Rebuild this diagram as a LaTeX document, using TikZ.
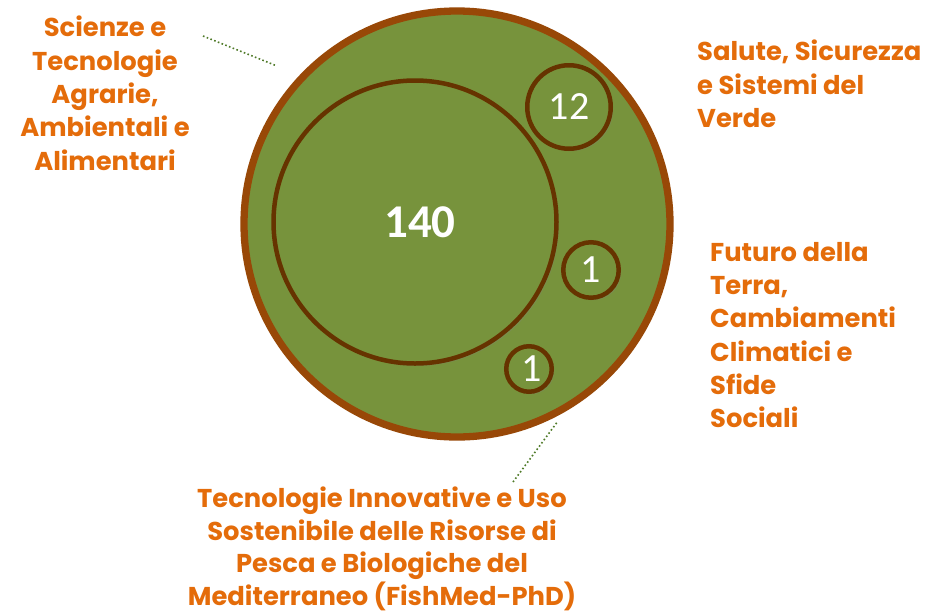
\documentclass[tikz,border=0pt]{standalone}
\usepackage{fontspec}
\newfontfamily\lblfont{Poppins}
\newfontfamily\numfont{Carlito}
\usetikzlibrary{shadows}
\definecolor{leaf}{HTML}{77933C}
\definecolor{rust}{HTML}{984807}
\definecolor{bark}{HTML}{663300}
\definecolor{tang}{HTML}{E46C0A}
\definecolor{moss}{HTML}{4F7A28}
\begin{document}
\begin{tikzpicture}[%every label/.style={tang},
				x=1pt,y=-1pt,
	ring/.style={circle, draw=bark, line width=4.5pt, fill=leaf, inner sep=0pt, text=white,
		font=\numfont\fontsize{40}{40}\selectfont,
		drop shadow={shadow xshift=2.5pt, shadow yshift=-2.5pt, opacity=.25}},
	area/.style={inner sep=0pt, text=tang, font=\lblfont\bfseries\fontsize{25.8}{33.3}\selectfont},
	link/.style={draw=moss, line width=1.6pt, dash pattern=on 1.6pt off 2.4pt}]
\useasboundingbox (0,0) rectangle (930,614);
\node[ring, draw=rust, line width=7.3pt, minimum size=426pt](all) at (457,224) {};
\node[ring, minimum size=283pt, label={[text=white, xshift=5pt, font=\numfont\bfseries\fontsize{47}{47}\selectfont]center:140}](agr) at (415,222) {};
\node[ring, minimum size=83.5pt](ver) at (569,107) {12};
\node[ring, minimum size=55.5pt](fut) at (591,270) {1};
\node[ring, minimum size=45.5pt, label={[text=white, xshift=3pt, font=\numfont\fontsize{40}{40}\selectfont]center:1}](med) at (529,369) {};
\node[area, align=center, anchor=north](agrtxt) at (105,16) {Scienze e\\Tecnologie\\Agrarie,\\Ambientali e\\Alimentari};
\node[area, align=left, anchor=north west](vertxt) at (697,40) {Salute, Sicurezza\\e Sistemi del\\Verde};
\node[area, align=left, anchor=north west](futtxt) at (710,242) {Futuro della\\Terra,\\Cambiamenti\\Climatici e\\Sfide\\Sociali};
\node[area, align=center, anchor=north, font=\lblfont\bfseries\fontsize{25.8}{32.5}\selectfont](medtxt) at (382,487) {Tecnologie Innovative e Uso\\Sostenibile delle Risorse di\\Pesca e Biologiche del\\Mediterraneo (FishMed-PhD)};
\coordinate (agrtip) at (203,36);
\coordinate (agrend) at (277,66);
\coordinate (medtip) at (513,482);
\coordinate (medend) at (558,421);
\draw[link] (agrtip) -- (agrend);
\draw[link] (medtip) -- (medend);
\end{tikzpicture}
\end{document}
